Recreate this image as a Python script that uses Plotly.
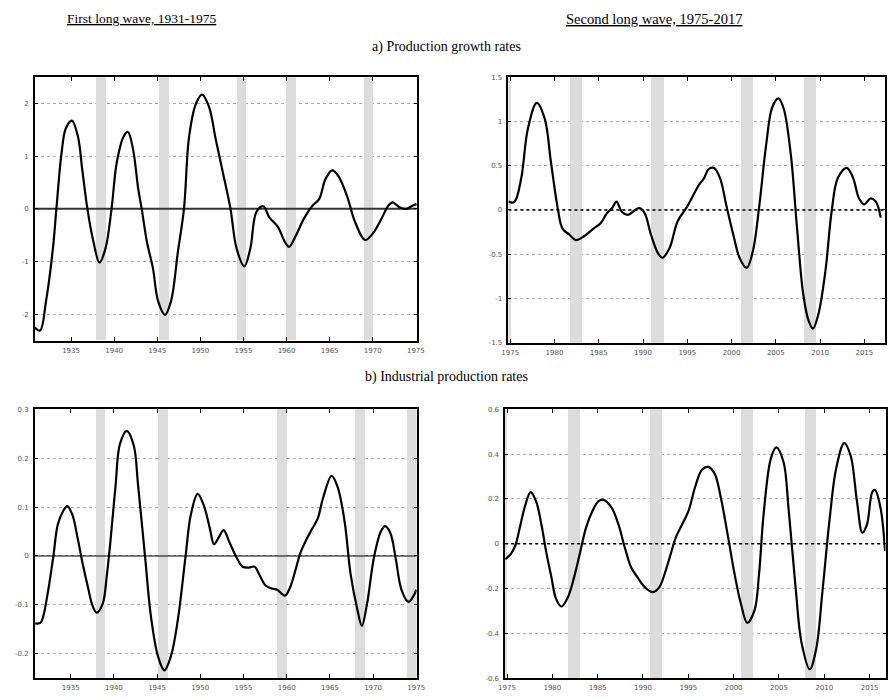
import plotly.graph_objects as go

# ---------------- data ----------------
# a) Production growth rates, first long wave
a1_year = [1930.8, 1931.4, 1932.1, 1932.9, 1933.3, 1933.9, 1934.4, 1935.1, 1935.8, 1936.3, 1936.9, 1937.6,
           1938.3, 1939.0, 1939.7, 1940.3, 1941.1, 1941.6, 1942.2, 1942.8, 1943.2, 1943.8, 1944.5, 1945.1,
           1945.9, 1946.6, 1947.4, 1948.1, 1948.7, 1949.5, 1950.2, 1951.0, 1951.8, 1952.7, 1953.5, 1954.2,
           1955.1, 1955.8, 1956.5, 1957.3, 1958.0, 1959.0, 1959.8, 1960.3, 1961.1, 1962.0, 1963.0, 1963.8,
           1964.5, 1965.3, 1966.0, 1967.0, 1967.95, 1969.1, 1970.0, 1971.0, 1971.8, 1972.3, 1973.1, 1973.9,
           1974.6, 1975.1]
a1_val = [-2.25, -2.31, -1.75, -0.75, 0.0, 1.06, 1.53, 1.675, 1.375, 0.75, 0.0, -0.625,
          -1.02, -0.75, 0.0, 0.875, 1.375, 1.46, 1.125, 0.375, 0.0, -0.625, -1.125, -1.75,
          -2.01, -1.75, -0.81, 0.0, 1.375, 2.0, 2.17, 1.94, 1.31, 0.625, 0.0, -0.75,
          -1.09, -0.75, -0.06, 0.05, -0.16, -0.34, -0.625, -0.72, -0.5, -0.19, 0.06, 0.19,
          0.56, 0.73, 0.625, 0.25, -0.25, -0.59, -0.47, -0.19, 0.06, 0.125, 0.03, 0.0,
          0.06, 0.09]

# a) Production growth rates, second long wave
a2_year = [1974.8, 1975.4, 1975.7, 1976.3, 1977.0, 1978.0, 1978.9, 1979.6, 1980.4, 1980.9, 1981.7, 1982.4,
           1983.3, 1984.4, 1985.2, 1985.9, 1986.5, 1987.0, 1987.6, 1988.3, 1989.1, 1989.6, 1990.2, 1990.9,
           1991.7, 1992.2, 1993.0, 1993.9, 1995.0, 1996.3, 1996.9, 1997.4, 1998.0, 1998.7, 1999.4, 2000.2,
           2000.9, 2001.7, 2002.4, 2003.1, 2003.9, 2004.6, 2005.3, 2005.9, 2006.7, 2007.4, 2008.1, 2008.7,
           2009.2, 2009.8, 2010.6, 2011.3, 2012.0, 2013.0, 2013.7, 2014.4, 2015.0, 2015.7, 2016.3, 2016.85]
a2_val = [0.094, 0.086, 0.13, 0.39, 0.92, 1.21, 1.03, 0.54, 0.0, -0.21, -0.28, -0.34,
          -0.30, -0.21, -0.15, -0.04, 0.02, 0.094, -0.02, -0.056, 0.0, 0.02, -0.04, -0.28,
          -0.49, -0.54, -0.43, -0.13, 0.04, 0.28, 0.36, 0.46, 0.476, 0.36, 0.056, -0.28,
          -0.54, -0.655, -0.47, 0.02, 0.73, 1.16, 1.26, 1.14, 0.62, -0.21, -0.955, -1.25,
          -1.34, -1.18, -0.69, -0.02, 0.36, 0.476, 0.37, 0.13, 0.064, 0.13, 0.094, -0.086]

# b) Industrial production rates, first long wave
b1_year = [1930.9, 1931.5, 1931.8, 1932.4, 1933.0, 1933.5, 1934.1, 1934.6, 1935.2, 1935.8, 1936.4, 1937.0,
           1937.5, 1938.0, 1938.7, 1939.2, 1939.6, 1940.2, 1940.7, 1941.5, 1942.3, 1942.8, 1943.6, 1944.3,
           1945.1, 1945.85, 1946.6, 1947.4, 1948.3, 1948.9, 1949.7, 1950.4, 1951.1, 1951.6, 1952.2, 1952.7,
           1953.4, 1954.2, 1954.9, 1955.5, 1956.3, 1956.8, 1957.6, 1958.4, 1958.9, 1959.8, 1960.4, 1961.0,
           1961.6, 1962.3, 1962.9, 1963.6, 1964.2, 1965.2, 1965.9, 1966.7, 1967.4, 1968.2, 1968.7, 1969.3,
           1970.1, 1970.9, 1971.4, 1972.0, 1972.6, 1973.3, 1974.1, 1974.7, 1975.0]
b1_val = [-0.138, -0.137, -0.125, -0.07, 0.0, 0.064, 0.091, 0.102, 0.084, 0.037, -0.017, -0.064,
          -0.10, -0.116, -0.098, -0.037, 0.03, 0.145, 0.229, 0.256, 0.226, 0.145, 0.0, -0.125,
          -0.205, -0.234, -0.205, -0.131, 0.0, 0.084, 0.127, 0.104, 0.057, 0.024, 0.04, 0.053,
          0.027, -0.003, -0.022, -0.024, -0.022, -0.037, -0.061, -0.067, -0.069, -0.081, -0.064, -0.03,
          0.007, 0.034, 0.054, 0.077, 0.118, 0.164, 0.141, 0.071, -0.037, -0.111, -0.143, -0.098,
          -0.003, 0.05, 0.061, 0.047, -0.003, -0.07, -0.094, -0.081, -0.069]

# b) Industrial production rates, second long wave
b2_year = [1974.8, 1975.4, 1975.9, 1976.4, 1977.0, 1977.6, 1978.2, 1978.8, 1979.3, 1979.9, 1980.4, 1981.0,
           1981.7, 1982.4, 1983.1, 1983.7, 1984.4, 1985.1, 1985.65, 1986.55, 1987.3, 1988.0, 1988.7, 1989.4,
           1990.2, 1991.1, 1991.8, 1992.5, 1993.05, 1993.6, 1994.3, 1995.0, 1995.8, 1996.5, 1997.2, 1997.9,
           1998.6, 1999.4, 2000.1, 2000.8, 2001.5, 2002.3, 2002.8, 2003.3, 2004.1, 2004.7, 2005.5, 2006.05,
           2006.8, 2007.5, 2008.4, 2009.1, 2009.8, 2010.6, 2011.3, 2012.2, 2012.9, 2013.6, 2014.2, 2014.7,
           2015.3, 2015.6, 2016.2, 2016.7]
b2_val = [-0.069, -0.047, -0.01, 0.07, 0.17, 0.23, 0.19, 0.085, -0.032, -0.15, -0.245, -0.28,
          -0.24, -0.15, -0.032, 0.07, 0.144, 0.19, 0.196, 0.16, 0.085, -0.018, -0.106, -0.15,
          -0.194, -0.216, -0.194, -0.12, -0.047, 0.026, 0.085, 0.144, 0.26, 0.33, 0.343, 0.313,
          0.203, 0.026, -0.135, -0.268, -0.353, -0.297, -0.135, 0.13, 0.38, 0.43, 0.365, 0.16,
          -0.18, -0.444, -0.56, -0.47, -0.21, 0.115, 0.335, 0.449, 0.394, 0.19, 0.049, 0.085,
          0.232, 0.24, 0.16, -0.032]

# recession bands (start, end) per panel
a1_band_start = [1937.9, 1945.2, 1954.2, 1959.95, 1968.95]
a1_band_end = [1939.0, 1946.3, 1955.3, 1961.1, 1970.0]
a2_band_start = [1974.5, 1981.85, 1991.0, 2001.1, 2008.2]
a2_band_end = [1975.1, 1983.2, 1992.4, 2002.5, 2009.55]
b1_band_start = [1937.9, 1945.1, 1958.9, 1967.9, 1973.9]
b1_band_end = [1938.95, 1946.2, 1960.0, 1969.0, 1975.1]
b2_band_start = [1974.5, 1981.8, 1990.8, 2000.85, 2007.85]
b2_band_end = [1975.0, 1983.1, 1992.1, 2002.15, 2009.15]

# axis ticks
a1_yticks = [-2, -1, 0, 1, 2]
a2_yticks = [-1.5, -1, -0.5, 0, 0.5, 1, 1.5]
b1_yticks = [-0.2, -0.1, 0, 0.1, 0.2, 0.3]
b2_yticks = [-0.6, -0.4, -0.2, 0, 0.2, 0.4, 0.6]
x1_ticks = [1935, 1940, 1945, 1950, 1955, 1960, 1965, 1970, 1975]
x2_ticks = [1975, 1980, 1985, 1990, 1995, 2000, 2005, 2010, 2015]

# ---------------- figure ----------------
W, H = 894, 699
fig = go.Figure()

panels = [
    ("", a1_year, a1_val, [1930.8, 1975.1], [-2.5, 2.5], a1_yticks, a1_band_start, a1_band_end, x1_ticks,
     dict(color="#333333", width=2), [28.3, 416.7], [74, 340.5]),
    ("2", a2_year, a2_val, [1974.8, 2017.3], [-1.5, 1.5], a2_yticks, a2_band_start, a2_band_end, x2_ticks,
     dict(color="black", width=1.6, dash="dot"), [510, 892.7], [74, 342.7]),
    ("3", b1_year, b1_val, [1930.85, 1975.05], [-0.25, 0.3], b1_yticks, b1_band_start, b1_band_end, x1_ticks,
     dict(color="black", width=1.2), [28.3, 416.7], [410, 682]),
    ("4", b2_year, b2_val, [1974.8, 2016.75], [-0.6, 0.6], b2_yticks, b2_band_start, b2_band_end, x2_ticks,
     dict(color="black", width=1.6, dash="dot"), [506.7, 893.5], [410, 682]),
]

tickfont = dict(family="DejaVu Sans", size=7, color="#555")
for suf, xs, ys, xr, yr, yt, bs, be, xt, zl, xpx, ypx in panels:
    xa = "x" + suf
    ya = "y" + suf
    # recession bands
    fig.add_trace(go.Bar(x=[(s + e) / 2 for s, e in zip(bs, be)],
                         y=[yr[1] - yr[0]] * len(bs), base=yr[0],
                         width=[e - s for s, e in zip(bs, be)],
                         marker=dict(color="#dcdcdc", line=dict(width=0)),
                         xaxis=xa, yaxis=ya, showlegend=False, hoverinfo="skip"))
    # zero line
    fig.add_trace(go.Scatter(x=xr, y=[0, 0], mode="lines", line=zl, xaxis=xa, yaxis=ya,
                             showlegend=False, hoverinfo="skip"))
    # series
    fig.add_trace(go.Scatter(x=xs, y=ys, mode="lines", xaxis=xa, yaxis=ya,
                             line=dict(color="black", width=2.2, shape="spline", smoothing=1.0),
                             showlegend=False, hoverinfo="skip"))
    fig.layout["xaxis" + suf] = dict(
        domain=[xpx[0] / W, xpx[1] / W], range=xr, anchor=ya,
        tickvals=xt, ticktext=[str(v) for v in xt],
        ticks="inside", ticklen=4, tickcolor="black", tickwidth=1,
        showline=True, linecolor="black", linewidth=1.5, mirror="ticks",
        showgrid=False, zeroline=False, tickfont=tickfont, ticklabelstandoff=2,
    )
    fig.layout["yaxis" + suf] = dict(
        domain=[1 - ypx[1] / H, 1 - ypx[0] / H], range=yr, anchor=xa,
        tickvals=yt, ticktext=[("%g" % v) for v in yt],
        ticks="inside", ticklen=3, tickcolor="black", tickwidth=1,
        showline=True, linecolor="black", linewidth=1.5, mirror="ticks",
        showgrid=True, gridcolor="#aaaaaa", griddash="dot", gridwidth=1,
        zeroline=False, tickfont=tickfont, ticklabelstandoff=3,
    )

serif = dict(family="Liberation Serif", size=14, color="black")
annotations = [
    dict(text="<u>First long wave, 1931-1975</u>", x=59 / W, y=1 - 15 / H, xref="paper", yref="paper",
         xanchor="left", yanchor="middle", showarrow=False, font=dict(serif, size=13.5)),
    dict(text="<u>Second long wave, 1975-2017</u>", x=566 / W, y=1 - 15 / H, xref="paper", yref="paper",
         xanchor="left", yanchor="middle", showarrow=False, font=dict(serif, size=14.5)),
    dict(text="a) Production growth rates", x=447 / W, y=1 - 43 / H, xref="paper", yref="paper",
         xanchor="center", yanchor="middle", showarrow=False, font=serif),
    dict(text="b) Industrial production rates", x=447 / W, y=1 - 377 / H, xref="paper", yref="paper",
         xanchor="center", yanchor="middle", showarrow=False, font=serif),
]

fig.update_layout(width=W, height=H, margin=dict(l=0, r=0, t=0, b=0),
                  paper_bgcolor="white", plot_bgcolor="white", bargap=0,
                  annotations=annotations, showlegend=False)

fig.write_html("out.html", config={"displayModeBar": False},
               post_script="document.body.style.margin='0';")
